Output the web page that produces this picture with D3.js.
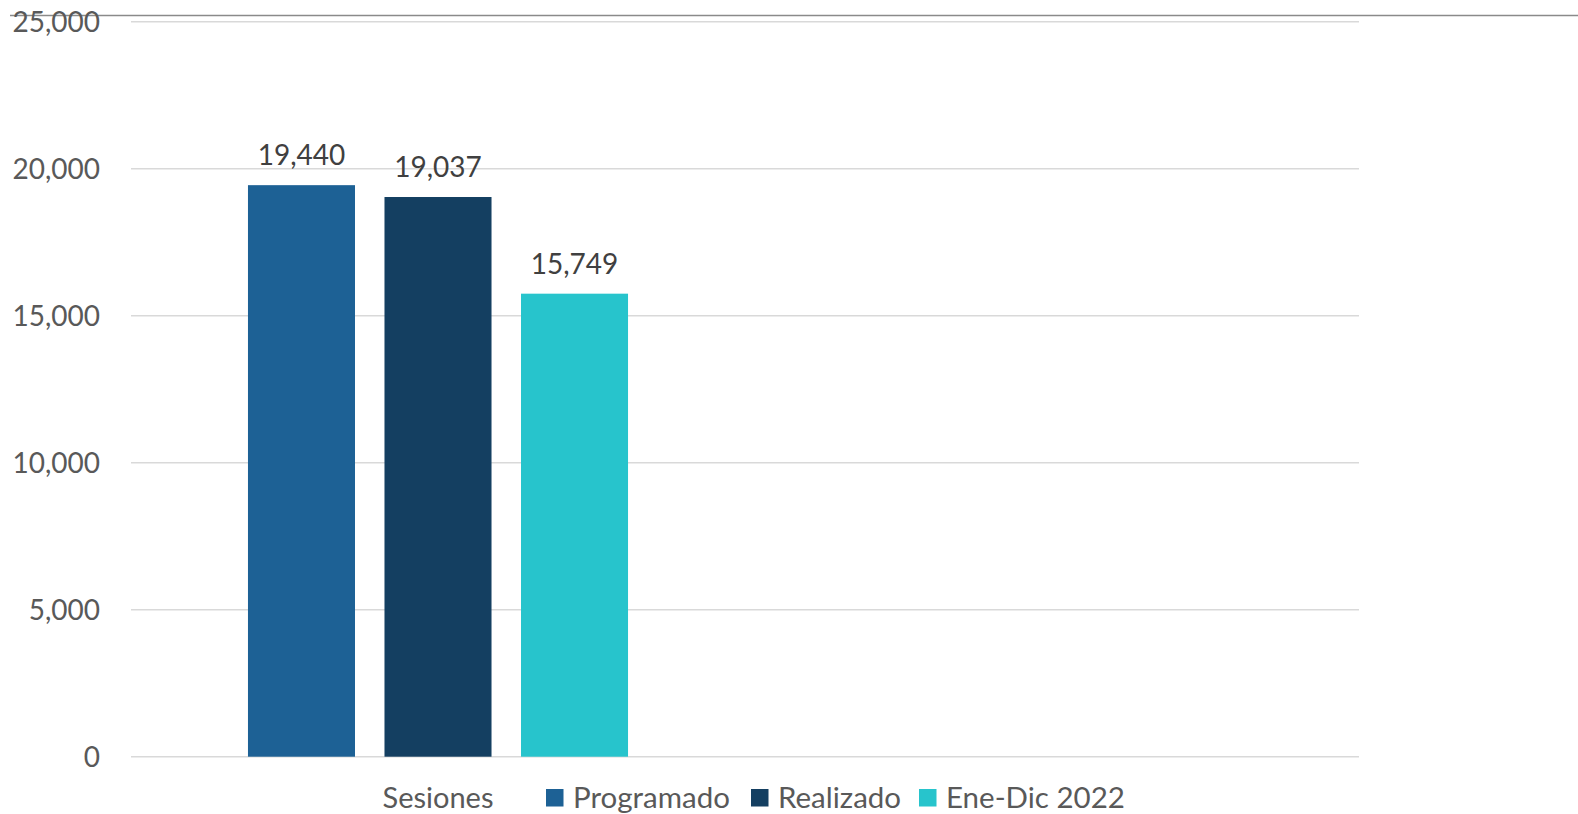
<!DOCTYPE html>
<html><head><meta charset="utf-8">
<script src="https://cdn.jsdelivr.net/npm/d3@7"></script>
<style>html,body{margin:0;padding:0;background:#fff;}svg{display:block;}</style>
</head><body>
<script>
const categories = ["Sesiones", ""];
const seriesNames = ["Programado", "Realizado", "Ene-Dic 2022"];
const seriesValues = [[19440], [19037], [15749]];
const yTicks = [0, 5000, 10000, 15000, 20000, 25000];
const colors = ["#1d6195", "#143f61", "#27c4cc"];

const W = 1578, H = 814;
const svg = d3.select("body").append("svg").attr("width", W).attr("height", H);
const font = "Lato, 'Open Sans', sans-serif";

// top border line
svg.append("line").attr("x1", 10).attr("x2", W).attr("y1", 15.5).attr("y2", 15.5)
  .attr("stroke", "#8a8a8a").attr("stroke-width", 1.4);

const x0 = d3.scaleBand().domain(categories).range([131, 1359]);
const y = d3.scaleLinear().domain([0, 25000]).range([756.7, 21.7]);
const bw = x0.bandwidth();
const groupW = bw * 0.619;
const x1 = d3.scaleBand().domain(seriesNames).range([(bw - groupW) / 2, (bw + groupW) / 2]).paddingInner(0.216).paddingOuter(0);

// gridlines
svg.append("g").selectAll("line").data(yTicks).join("line")
  .attr("x1", 131).attr("x2", 1359)
  .attr("y1", d => y(d)).attr("y2", d => y(d))
  .attr("stroke", "#d9d9d9").attr("stroke-width", 1.4);

// y axis labels
const yAxis = d3.axisLeft(y).tickValues(yTicks).tickFormat(d3.format(",")).tickSize(0).tickPadding(0);
const ya = svg.append("g").attr("transform", "translate(100,0)").call(yAxis);
ya.select(".domain").remove();
ya.selectAll("text").attr("font-family", font).attr("font-size", 28).attr("fill", "#595959").attr("dy", "0.36em");

// bars
const data = seriesNames.map((s, i) => ({ s, v: seriesValues[i][0], c: colors[i], cat: categories[0] }));
svg.append("g").selectAll("rect").data(data).join("rect")
  .attr("x", d => x0(d.cat) + x1(d.s))
  .attr("width", x1.bandwidth())
  .attr("y", d => y(d.v))
  .attr("height", d => y(0) - y(d.v))
  .attr("fill", d => d.c);

// data labels
svg.append("g").selectAll("text").data(data).join("text")
  .attr("x", d => x0(d.cat) + x1(d.s) + x1.bandwidth() / 2)
  .attr("y", d => y(d.v) - 20)
  .attr("text-anchor", "middle")
  .attr("font-family", font).attr("font-size", 28).attr("fill", "#404040")
  .text(d => d3.format(",")(d.v));

// x axis category label
const xAxis = d3.axisBottom(x0).tickSize(0).tickPadding(0);
const xa = svg.append("g").call(xAxis);
xa.select(".domain").remove();
xa.selectAll("text").attr("y", 808).attr("dy", 0)
  .attr("font-family", font).attr("font-size", 29).attr("fill", "#595959");

// legend
const legendX = [546, 751, 919];
const lg = svg.append("g").selectAll("g").data(data).join("g")
  .attr("transform", (d, i) => `translate(${legendX[i]},0)`);
lg.append("rect").attr("x", 0).attr("y", 789).attr("width", 17.5).attr("height", 17.5).attr("fill", d => d.c);
lg.append("text").attr("x", 27).attr("y", 808)
  .attr("font-family", font).attr("font-size", 29.5).attr("fill", "#595959")
  .text(d => d.s);
</script>
</body></html>
